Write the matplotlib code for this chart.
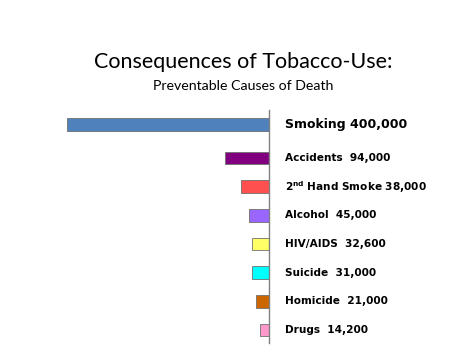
import numpy as np
import matplotlib
matplotlib.use("Agg")
from matplotlib import pyplot as plt

causes = ["Smoking", "Accidents", "2$^{\\mathbf{nd}}$ Hand Smoke", "Alcohol",
          "HIV/AIDS", "Suicide", "Homicide", "Drugs"]
deaths_text = ["400,000", "94,000", "38,000", "45,000", "32,600", "31,000", "21,000", "14,200"]
# bar lengths as drawn in the picture (not exactly proportional to the labels)
bar_lengths = [400000, 87000, 56000, 40000, 32600, 32600, 24600, 16700]
colors = ["#4f81bd", "#800080", "#ff5050", "#9966ff", "#ffff66", "#00ffff", "#cc6600", "#ff99cc"]
label_gaps = [" ", "  ", " ", "  ", "  ", "  ", "  ", "  "]

plt.rcParams['mathtext.fontset'] = 'dejavusans'

W, H = 474, 355
fig = plt.figure(figsize=(W / 100, H / 100), dpi=100)

# axes box in pixel terms: left 67.3, right 268.7, top 110, bottom 343
ax = fig.add_axes([67.3 / W, 1 - 343 / H, (268.7 - 67.3) / W, (343 - 110) / H])

pos = np.arange(len(causes), dtype=float)
pos[0] -= 0.17

ax.barh(pos, [-v for v in bar_lengths], height=0.44, color=colors,
        edgecolor="#707070", linewidth=0.6)
ax.set_xlim(-400000, 0)
ax.set_ylim(7.45, -0.674)

for s in ["top", "left", "bottom"]:
    ax.spines[s].set_visible(False)
ax.spines["right"].set_color("#808080")
ax.spines["right"].set_linewidth(1.0)
ax.set_xticks([])
ax.set_yticks([])

for i, (c, t, g) in enumerate(zip(causes, deaths_text, label_gaps)):
    size = 9.0 if i == 0 else 7.6
    ax.annotate(c + g + t, xy=(0, pos[i]), xytext=(16.5, 0), textcoords="offset pixels",
                ha="left", va="center", fontsize=size, fontweight="bold",
                family="DejaVu Sans", annotation_clip=False)

fig.text(243.5 / W, 1 - 62 / H, "Consequences of Tobacco-Use:", ha="center", va="center",
         fontsize=15.5, family="Lato")
fig.text(243.5 / W, 1 - 86 / H, "Preventable Causes of Death", ha="center", va="center",
         fontsize=10.2, family="Lato")

fig.savefig("out.png", dpi=100)
